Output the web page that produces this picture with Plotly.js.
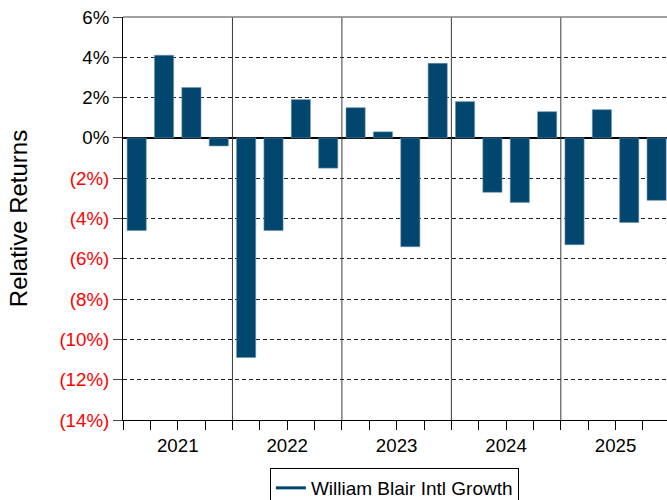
<!DOCTYPE html>
<html>
<head>
<meta charset="utf-8">
<script src="https://cdn.plot.ly/plotly-3.0.1.min.js"></script>
<style>html,body{margin:0;padding:0;background:#fff;}#chart{width:667px;height:500px;}</style>
</head>
<body>
<div id="chart"></div>
<script>
// Quarterly relative returns (%), 2021 Q1 .. 2025 Q4
const years = ["2021", "2022", "2023", "2024", "2025"];
const quarters = ["Q1", "Q2", "Q3", "Q4"];
const relativeReturns = [
  -4.6, 4.1, 2.5, -0.4,
  -10.9, -4.6, 1.9, -1.5,
  1.5, 0.3, -5.4, 3.7,
  1.8, -2.7, -3.2, 1.3,
  -5.3, 1.4, -4.2, -3.1
];
const seriesName = "William Blair Intl Growth";
const yTickVals = [6, 4, 2, 0, -2, -4, -6, -8, -10, -12, -14];

const barColor = "#00466e";
const nQ = quarters.length;
const xIdx = relativeReturns.map((_, i) => i);
const yearCenters = years.map((_, i) => i * nQ + (nQ - 1) / 2);
const yearSeparators = years.slice(1).map((_, i) => (i + 1) * nQ - 0.5);
const yTickText = yTickVals.map(v => v < 0
  ? '<span style="color:#ff0000">(' + Math.abs(v) + '%)</span>'
  : v + '%');

const font = "Liberation Sans, Arial, sans-serif";

const traces = [
  {
    type: "bar",
    x: xIdx,
    y: relativeReturns,
    width: 0.7,
    marker: { color: barColor, line: { color: "#6f93ad", width: 0.6 } },
    showlegend: false,
    hoverinfo: "y"
  },
  {
    type: "scatter",
    mode: "lines",
    x: [null],
    y: [null],
    name: seriesName,
    line: { color: barColor, width: 3 },
    showlegend: true
  }
];

const shapes = yearSeparators.map(x => ({
  type: "line", xref: "x", yref: "paper", x0: x, x1: x, y0: 0, y1: 1,
  line: { color: "#3a3a3a", width: 1 }, layer: "above"
}));
shapes.push({
  type: "line", xref: "paper", yref: "paper", x0: 0, x1: 1, y0: 1, y1: 1,
  line: { color: "#808080", width: 1.5 }
});

const layout = {
  width: 667,
  height: 500,
  margin: { l: 123.3, r: 0, t: 17, b: 80 },
  paper_bgcolor: "#ffffff",
  plot_bgcolor: "#ffffff",
  font: { family: font, size: 18.7, color: "#000" },
  bargap: 0,
  xaxis: {
    range: [-0.5, 19.38],
    tickmode: "array",
    tickvals: yearCenters,
    ticktext: years,
    ticks: "outside",
    ticklen: 9,
    tickcolor: "#000",
    tickwidth: 1,
    minor: { tickmode: "linear", tick0: -0.5, dtick: 1, ticks: "outside", ticklen: 9, tickcolor: "#000", tickwidth: 1, showgrid: false },
    showline: true,
    linecolor: "#000",
    linewidth: 1,
    showgrid: false,
    zeroline: false,
    tickfont: { family: font, size: 18.7, color: "#000" },
    automargin: false,
    fixedrange: true
  },
  yaxis: {
    range: [-14, 6],
    tickmode: "array",
    tickvals: yTickVals,
    ticktext: yTickText,
    ticks: "outside",
    ticklen: 9,
    tickcolor: "#444",
    tickwidth: 1,
    showline: true,
    linecolor: "#000",
    linewidth: 1,
    showgrid: true,
    gridcolor: "#222",
    gridwidth: 1,
    griddash: "4px,3px",
    zeroline: true,
    zerolinecolor: "#000",
    zerolinewidth: 2,
    tickfont: { family: font, size: 18.7, color: "#000" },
    title: { text: "Relative Returns", font: { family: font, size: 24, color: "#000" }, standoff: 25 },
    automargin: false,
    fixedrange: true
  },
  shapes: shapes,
  showlegend: true,
  legend: {
    orientation: "h",
    x: 0.27,
    xanchor: "left",
    yref: "container",
    y: 0.064,
    yanchor: "top",
    bordercolor: "#000",
    borderwidth: 1,
    bgcolor: "#fff",
    font: { family: font, size: 19, color: "#000" }
  }
};

Plotly.newPlot("chart", traces, layout, { displayModeBar: false, staticPlot: true });
</script>
</body>
</html>
